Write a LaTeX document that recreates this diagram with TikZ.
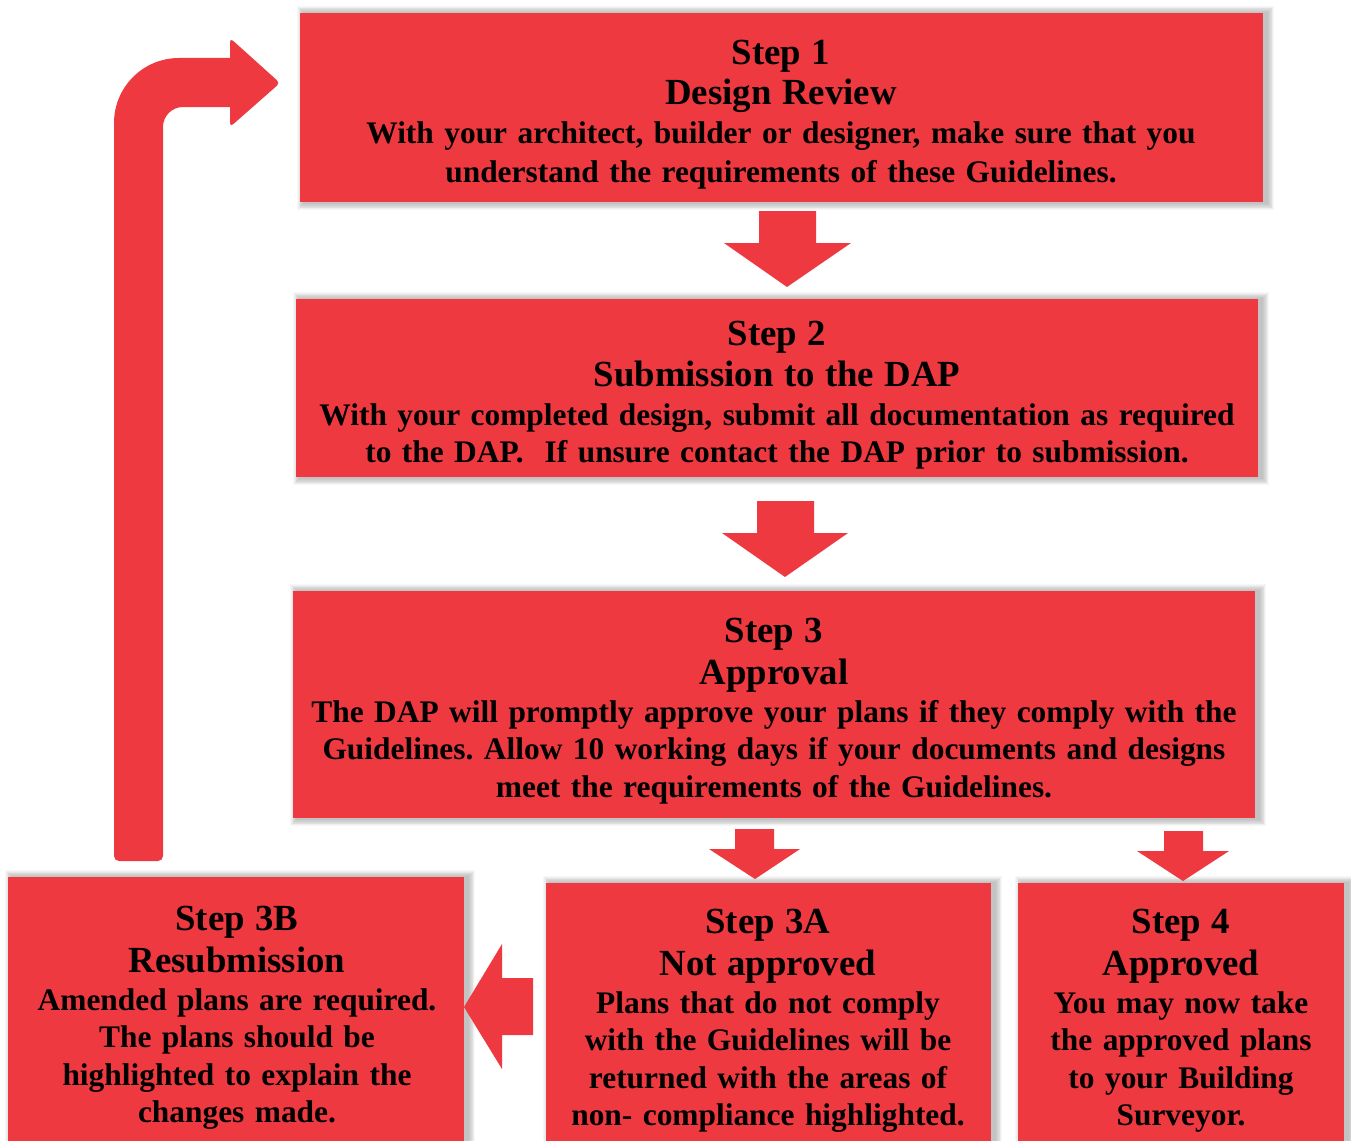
\documentclass[tikz,border=0pt]{standalone}
\usepackage{fontspec}
\setmainfont{Liberation Serif}
\definecolor{boxred}{RGB}{239,57,64}
\tikzset{
  boxfill/.style={fill=boxred, draw=none, inner sep=0pt, outer sep=0pt, anchor=north west},
  txt/.style={text width=#1, align=center, inner sep=0pt, anchor=base, text=black,
    font=\bfseries\fontsize{31.4}{37.5}\selectfont\frenchspacing},
  blockarrow/.style={fill=boxred, draw=none},
}
\newcommand{\ttl}[1]{{\fontsize{36.8}{37.5}\selectfont #1}}
\newcommand{\softshadow}[4]{%
  \foreach \s in {1,...,8}{\fill[black, fill opacity=0.03] (#1+4-\s*0.9, #2-\s*0.9) rectangle (#3+4+\s*0.9, #4+1+\s*0.9);}%
}
\begin{document}
\begin{tikzpicture}[x=1pt,y=-1pt]
\useasboundingbox (0,0) rectangle (1351,1140);
\clip (0,0) rectangle (1351,1140);
\fill[white] (0,0) rectangle (1351,1140);

% shadows
\softshadow{300}{13}{1263}{202}
\softshadow{296}{299}{1258}{477}
\softshadow{293}{591}{1255}{818}
\softshadow{8}{877}{464}{1160}
\softshadow{546}{883}{991}{1160}
\softshadow{1018}{883}{1344}{1160}

% boxes
\node[boxfill, minimum width=963, minimum height=189] (b1) at (300,13) {};
\node[boxfill, minimum width=962, minimum height=178] (b2) at (296,299) {};
\node[boxfill, minimum width=962, minimum height=227] (b3) at (293,591) {};
\node[boxfill, minimum width=456, minimum height=283] (b3B) at (8,877) {};
\node[boxfill, minimum width=445, minimum height=277] (b3A) at (546,883) {};
\node[boxfill, minimum width=326, minimum height=277] (b4) at (1018,883) {};

% texts
\node[txt=1000] (t1) at (781,64) {\ttl{Step 1}\\[3pt]\ttl{Design Review}\\[1pt]With your architect, builder or designer, make sure that you\\[2pt]understand the requirements of these Guidelines.};
\node[txt=1000] (t2) at (777,345) {\ttl{Step 2}\\[4pt]\ttl{Submission to the DAP}\\[1pt]With your completed design, submit all documentation as required\\to the DAP. \ If unsure contact the DAP prior to submission.};
\node[txt=1000] (t3) at (774,642) {\ttl{Step 3}\\[5pt]\ttl{Approval}\\[0pt]The DAP will promptly approve your plans if they comply with the\\Guidelines. Allow 10 working days if your documents and designs\\meet the requirements of the Guidelines.};
\node[txt=520] (t3B) at (237,930) {\ttl{Step 3B}\\[5pt]\ttl{Resubmission}\\[0pt]Amended plans are required.\\The plans should be\\highlighted to explain the\\changes made.};
\node[txt=520] (t3A) at (768,933) {\ttl{Step 3A}\\[5pt]\ttl{Not approved}\\[0pt]Plans that do not comply\\with the Guidelines will be\\returned with the areas of\\non- compliance highlighted.};
\node[txt=400] (t4) at (1181,933) {\ttl{Step 4}\\[5pt]\ttl{Approved}\\[0pt]You may now take\\the approved plans\\to your Building\\Surveyor.};

% block arrows (down)
\fill[blockarrow] (759,211) -- (816,211) -- (816,243) -- (851,243) -- (787,287) -- (724,243) -- (759,243) -- cycle;
\fill[blockarrow] (757,501) -- (814,501) -- (814,533) -- (848,533) -- (785,577) -- (722,533) -- (757,533) -- cycle;
\fill[blockarrow] (735,829) -- (774,829) -- (774,849) -- (800,849) -- (755,879) -- (709,849) -- (735,849) -- cycle;
\fill[blockarrow] (1164,831) -- (1203,831) -- (1203,851) -- (1229,851) -- (1183,881) -- (1137,851) -- (1164,851) -- cycle;
% left arrow 3A -> 3B
\fill[blockarrow] (533,978) -- (533,1035) -- (502,1035) -- (502,1069) -- (464,1007) -- (502,944) -- (502,978) -- cycle;

% curved return arrow
\fill[blockarrow] (114,500) -- (114,123) arc[start angle=180,end angle=270,radius=65] -- (230,58) [rounded corners=4] -- (230,38) -- (280,83) -- (230,127) [sharp corners] -- (230,107) -- (183,107) arc[start angle=270,end angle=180,radius=20] -- (163,500) [rounded corners=5] -- (163,861) -- (114,861) -- (114,500) -- cycle;
\end{tikzpicture}
\end{document}
